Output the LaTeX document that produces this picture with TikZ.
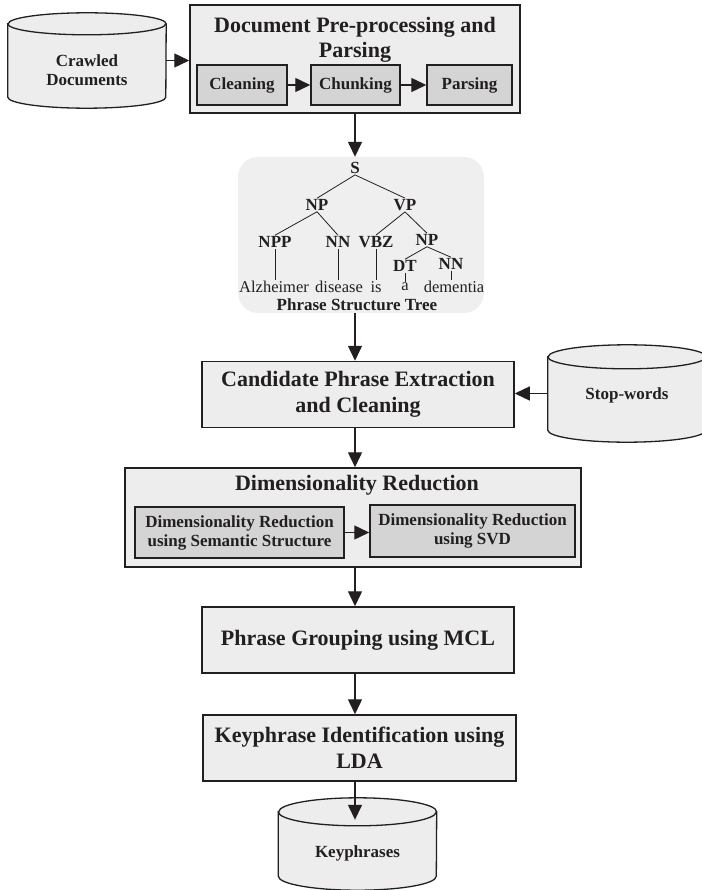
\documentclass[tikz,border=0pt]{standalone}
\usepackage{fontspec}
\setmainfont{Liberation Serif}
\usepackage{tikz}
\usetikzlibrary{arrows.meta}
\usetikzlibrary{calc}
\definecolor{ink}{HTML}{231F20}
\definecolor{boxgray}{HTML}{ECEDEC}
\definecolor{subgray}{HTML}{D3D4D3}
\definecolor{treegray}{HTML}{EFEFEF}
\tikzset{
  arr/.style={draw=ink, line width=1.4pt, -{Triangle[length=15pt,width=14pt]}},
  bigbox/.style={draw=ink, line width=1.5pt, fill=boxgray, text=ink, align=center,
    font=\fontsize{22}{26}\selectfont\bfseries},
  subbox/.style={draw=ink, line width=1.5pt, fill=subgray, text=ink, align=center,
    font=\fontsize{17}{19}\selectfont\bfseries},
  db/.style={inner sep=0pt, minimum width=158},
  dbtext/.style={text=ink, align=center, font=\fontsize{17}{19}\selectfont\bfseries},
  tag/.style={text=ink, inner sep=1pt, font=\fontsize{17}{19}\selectfont\bfseries},
  word/.style={text=ink, inner sep=1pt, font=\fontsize{16.5}{19}\selectfont}
}

\begin{document}
\begin{tikzpicture}[x=1pt, y=-1pt]
\useasboundingbox (0,0) rectangle (701,890);

% databases (drawn as cylinders round their nodes)
\node[db, minimum height=95] (crawl) at (87,60.5) {};
\node[db, minimum height=97] (stop) at (627,393.5) {};
\node[db, minimum height=92] (keyph) at (357.5,844) {};
\foreach \c/\r in {crawl/11, stop/12, keyph/14} {
  \draw[ink, line width=1.3pt, fill=boxgray]
    ($(\c.north west)+(0,\r)$) -- ($(\c.south west)+(0,-\r)$)
    arc[start angle=180, end angle=360, x radius=79pt, y radius=\r pt]
    -- ($(\c.north east)+(0,\r)$)
    arc[start angle=0, end angle=180, x radius=79pt, y radius=\r pt] -- cycle;
  \draw[ink, line width=1.3pt] ($(\c.north west)+(0,\r)$)
    arc[start angle=180, end angle=360, x radius=79pt, y radius=\r pt];
}
\node[dbtext] (crawltxt) at ($(crawl.center)+(0,10)$) {Crawled\\Documents};
\node[dbtext] (stoptxt) at ($(stop.center)+(0,2)$) {Stop-words};
\node[dbtext] (keyphtxt) at ($(keyph.center)+(0,9)$) {Keyphrases};

% pre-processing block
\node[bigbox, minimum width=330, minimum height=108] (pre) at (355,59) {};
\node[text=ink, align=center, font=\fontsize{22}{25}\selectfont\bfseries] (pretitle) at (355,40)
  {Document Pre-processing and\\Parsing};
\node[subbox, minimum width=90, minimum height=40] (clean) at (242,85) {Cleaning};
\node[subbox, minimum width=89, minimum height=40] (chunk) at (355.5,85) {Chunking};
\node[subbox, minimum width=85, minimum height=40] (parse) at (469.5,85) {Parsing};
\draw[arr] (crawl.east) -- (crawl.east -| pre.west);
\draw[arr] (clean) -- (chunk);
\draw[arr] (chunk) -- (parse);

% phrase structure tree
\node[fill=treegray, rounded corners=20, minimum width=246, minimum height=156] (tree) at (361,235) {};
\node[tag] (s)   at (355,168) {S};
\node[tag] (np)  at (317,205) {NP};
\node[tag] (vp)  at (405,205) {VP};
\node[tag] (npp) at (275,242) {NPP};
\node[tag] (nn)  at (338,242) {NN};
\node[tag] (vbz) at (376,242) {VBZ};
\node[tag] (np2) at (427,240) {NP};
\node[tag] (dt)  at (405,266) {DT};
\node[tag] (nn2) at (451,264) {NN};
\node[word] (w1) at (274,287) {Alzheimer};
\node[word] (w2) at (339,287) {disease};
\node[word] (w3) at (376,287) {is};
\node[word] (w4) at (405,287) {a};
\node[word] (w5) at (454,287) {dementia};
\node[tag] (treecap) at (357,305) {Phrase Structure Tree};
\foreach \a/\b in {s/np, s/vp, np/npp, np/nn, vp/vbz, vp/np2, np2/dt, np2/nn2}
  \draw[ink, line width=0.8pt] (\a.south) -- (\b.north);
\foreach \a/\b in {npp/w1, nn/w2, vbz/w3, dt/w4, nn2/w5}
  \draw[ink, line width=0.8pt] (\a.south) -- (\a.south |- \b.north);
\draw[arr] (s.north |- pre.south) -- (s.north |- tree.north);

% candidate phrases
\node[bigbox, minimum width=312, minimum height=66] (cand) at (358,394.5)
  {Candidate Phrase Extraction\\and Cleaning};
\draw[arr] (s.north |- tree.south) -- (s.north |- cand.north);
\draw[arr] (stop.west) -- (stop.west -| cand.east);

% dimensionality reduction
\node[bigbox, minimum width=456, minimum height=99] (dr) at (353,517.5) {};
\node[text=ink, font=\fontsize{22}{26}\selectfont\bfseries] (drtitle) at (357,485) {Dimensionality Reduction};
\node[subbox, minimum width=209, minimum height=51] (drsem) at (239.5,532.5)
  {Dimensionality Reduction\\using Semantic Structure};
\node[subbox, minimum width=205, minimum height=52] (drsvd) at (472.5,531)
  {Dimensionality Reduction\\using SVD};
\draw[arr] (drsem.east) -- (drsem.east -| drsvd.west);
\draw[arr] (s.north |- cand.south) -- (s.north |- dr.north);

% grouping and keyphrases
\node[bigbox, minimum width=312, minimum height=66] (mcl) at (358,640) {Phrase Grouping using MCL};
\node[bigbox, minimum width=313, minimum height=66] (kid) at (359.5,748)
  {Keyphrase Identification using\\LDA};
\draw[arr] (s.north |- dr.south) -- (s.north |- mcl.north);
\draw[arr] (s.north |- mcl.south) -- (s.north |- kid.north);
\draw[arr] (s.north |- kid.south) -- ($(s.north |- keyph.north)+(0,22)$);
\end{tikzpicture}
\end{document}
